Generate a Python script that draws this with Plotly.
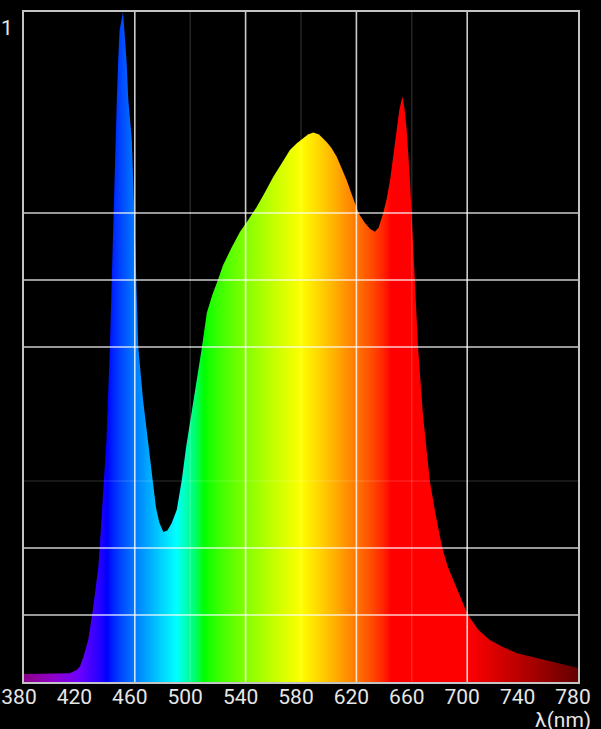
import plotly.graph_objects as go

# ---- data ----
wavelength_nm = [380, 390, 400, 410, 413, 418, 420.4, 423, 426.4, 430, 433.7, 435, 437.3, 439.5,
                 442, 443.3, 444.5, 445.7, 447, 448, 449, 451.5, 452.6, 454, 455.3, 457.8, 459.5,
                 461, 462.5, 466, 469.5, 472.2, 475.3, 477.7, 480.6, 483.5, 486.6, 490.3, 493.9,
                 497, 500, 503.5, 508.5, 512, 516, 520, 523.7, 530, 536, 542, 548, 554, 560, 566,
                 572, 577, 581.7, 585, 588.9, 593, 598.5, 602, 605.8, 609, 613, 619, 622, 626.2,
                 630, 633.4, 636, 639.4, 642, 644.3, 647.9, 651, 653.2, 654.8, 656.3, 658.7,
                 660.3, 662.3, 664.5, 668, 673, 677, 682, 686, 690, 695, 700.5, 708, 716, 726,
                 736, 748, 760, 770, 780]
intensity = [0.012, 0.012, 0.012, 0.012, 0.013, 0.018, 0.023, 0.038, 0.063, 0.112, 0.172, 0.212,
             0.297, 0.36, 0.5, 0.6, 0.71, 0.81, 0.869, 0.928, 0.973, 1.0, 0.973, 0.928, 0.869,
             0.81, 0.71, 0.6, 0.5, 0.42, 0.36, 0.305, 0.26, 0.238, 0.224, 0.226, 0.237, 0.257,
             0.301, 0.35, 0.39, 0.43, 0.5, 0.551, 0.578, 0.6, 0.622, 0.649, 0.672, 0.69, 0.709,
             0.731, 0.754, 0.774, 0.794, 0.804, 0.811, 0.817, 0.820, 0.817, 0.806, 0.797, 0.784,
             0.768, 0.749, 0.714, 0.698, 0.685, 0.676, 0.672, 0.678, 0.700, 0.722, 0.749, 0.809,
             0.854, 0.874, 0.855, 0.824, 0.749, 0.68, 0.6, 0.5, 0.4, 0.3, 0.252, 0.2, 0.172,
             0.152, 0.125, 0.1, 0.078, 0.063, 0.052, 0.043, 0.037, 0.031, 0.026, 0.021]

x_tick_vals = [380, 420, 460, 500, 540, 580, 620, 660, 700, 740, 780]
x_grid_major = [460, 540, 620, 700]
x_grid_faint = [500, 580, 660]
y_grid_major = [0.1, 0.2, 0.5, 0.6, 0.7]
y_grid_faint = [0.3]
x_min, x_max = 380, 780


def wl_to_rgb(w):
    if w < 440:
        r, g, b = (440 - w) / 60, 0.0, 1.0
    elif w < 490:
        r, g, b = 0.0, (w - 440) / 50, 1.0
    elif w < 510:
        r, g, b = 0.0, 1.0, (510 - w) / 20
    elif w < 580:
        r, g, b = (w - 510) / 70, 1.0, 0.0
    elif w < 645:
        r, g, b = 1.0, (645 - w) / 65, 0.0
    else:
        r, g, b = 1.0, 0.0, 0.0
    if w < 420:
        f = 0.45 + 0.55 * (w - 380) / 40
    elif w > 700:
        f = 0.3 + 0.7 * (780 - w) / 80
    else:
        f = 1.0
    def c(v):
        return int(round(255 * (v * f) ** 0.8)) if v > 0 else 0
    return f"rgb({c(r)},{c(g)},{c(b)})"


colorscale = []
for w in range(x_min, x_max + 1, 5):
    colorscale.append([(w - x_min) / (x_max - x_min), wl_to_rgb(w)])

fig = go.Figure()
fig.add_trace(go.Scatter(
    x=wavelength_nm, y=intensity, mode="lines", line=dict(width=0),
    fill="tozeroy",
    fillgradient=dict(type="horizontal", colorscale=colorscale, start=x_min, stop=x_max),
    hoverinfo="skip", showlegend=False,
))

shapes = []
for v in x_grid_major:
    shapes.append(dict(type="line", xref="x", yref="paper", x0=v, x1=v, y0=0, y1=1,
                       line=dict(color="rgba(255,255,255,0.8)", width=1.6), layer="above"))
for v in x_grid_faint:
    shapes.append(dict(type="line", xref="x", yref="paper", x0=v, x1=v, y0=0, y1=1,
                       line=dict(color="rgba(255,255,255,0.18)", width=1.2), layer="above"))
for v in y_grid_major:
    shapes.append(dict(type="line", xref="paper", yref="y", x0=0, x1=1, y0=v, y1=v,
                       line=dict(color="rgba(255,255,255,0.8)", width=1.6), layer="above"))
for v in y_grid_faint:
    shapes.append(dict(type="line", xref="paper", yref="y", x0=0, x1=1, y0=v, y1=v,
                       line=dict(color="rgba(255,255,255,0.18)", width=1.2), layer="above"))

font = dict(family="Roboto, 'DejaVu Sans', sans-serif", size=21, color="#e6e6e6")

fig.update_layout(
    width=601, height=729,
    margin=dict(l=24, r=23, t=12, b=47, autoexpand=False),
    paper_bgcolor="black", plot_bgcolor="black",
    font=font,
    shapes=shapes,
    xaxis=dict(range=[x_min, x_max], tickvals=x_tick_vals, showgrid=False, zeroline=False,
               showline=True, mirror=True, linecolor="rgba(230,230,230,0.85)", linewidth=1.5,
               layer="above traces", ticks="", ticklabelshift=-5, ticklabelstandoff=-5,
               ticklabeloverflow="allow", tickfont=font, fixedrange=True, automargin=False),
    yaxis=dict(range=[0, 1], showgrid=False, zeroline=False, showticklabels=False,
               showline=True, mirror=True, linecolor="rgba(230,230,230,0.85)", linewidth=1.5,
               layer="above traces", ticks="", fixedrange=True, automargin=False),
    annotations=[
        dict(text="1", xref="paper", yref="paper", x=0, y=1, xanchor="center", yanchor="middle",
             xshift=-17, yshift=-16, showarrow=False, font=font),
        dict(text="λ(nm)", xref="paper", yref="paper", x=1, y=0, xanchor="right", yanchor="top",
             xshift=15, yshift=-24, showarrow=False, font=font),
    ],
)

fig.write_html(
    "out.html",
    config={"displayModeBar": False},
    post_script="document.body.style.margin='0';document.body.style.background='black';"
                "document.documentElement.style.background='black';"
                "document.body.style.overflow='hidden';",
)
